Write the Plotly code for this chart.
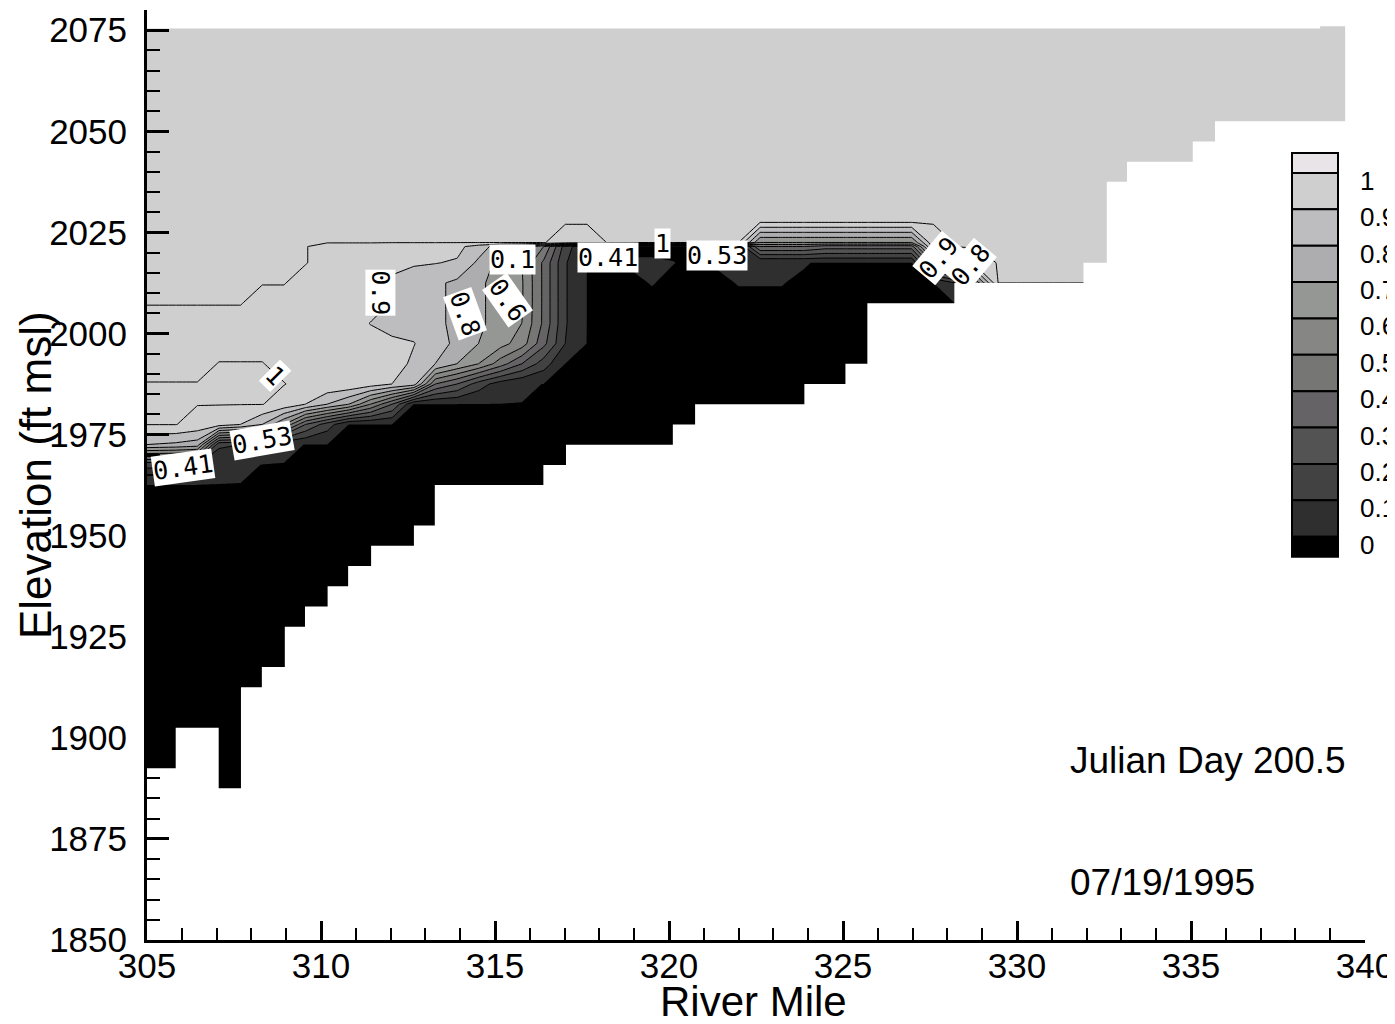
import plotly.graph_objects as go

# ---------------- data ----------------
# grid columns (river mile) where the tracer profiles were read
river_mile = [305.0, 305.825, 306.447, 307.069, 307.691, 308.313, 308.935, 309.557,
              310.179, 310.801, 311.423, 312.045, 312.667, 313.289, 313.911, 314.533,
              315.155, 315.777, 316.399, 317.021, 317.643, 318.265, 318.887, 319.509,
              320.131, 320.753, 321.375, 321.997, 322.619, 323.241, 323.863, 324.485,
              325.107, 325.729, 326.351, 326.973, 327.595, 328.217, 328.839, 329.461,
              330.083]
# grid rows (elevation, ft msl)
elev_rows = [1962.5, 1967.5, 1972.5, 1977.5, 1982.5, 1987.5, 1992.5, 1997.5,
             2002.5, 2007.5, 2012.5, 2017.5, 2021.5, 2022.5, 2027.5]
# tracer value profile at each column, bottom row -> top row
tracer_profiles = [
    [0, .12, .80, 1, 1, 1, .98, .98, .98, 1, 1, 1, 1, 1, 1],
    [0, .12, .78, 1, 1, 1, .98, .98, .98, 1, 1, 1, 1, 1, 1],
    [0, .10, .75, .97, 1, 1, .98, .98, .98, 1, 1, 1, 1, 1, 1],
    [0, .02, .12, .95, 1, 1, 1, .98, .98, 1, 1, 1, 1, 1, 1],
    [0, .01, .10, .90, 1, 1, 1, .98, .98, 1, 1, 1, 1, 1, 1],
    [0, 0, .06, .80, 1, 1, 1, .98, .98, .98, 1, 1, 1, 1, 1],
    [0, 0, .01, .60, .97, 1, .98, .98, .98, .98, 1, 1, 1, 1, 1],
    [0, 0, 0, .30, .90, .98, .98, .98, .98, .98, .98, 1, 1, 1, 1],
    [0, 0, 0, .15, .80, .98, .98, .98, .98, .98, .98, .98, .98, 1, 1],
    [0, 0, 0, 0, .70, .98, .98, .98, .98, .98, .98, .98, .98, 1, 1],
    [0, 0, 0, 0, .50, .95, .98, .98, .895, .98, .98, .98, .98, 1, 1],
    [0, 0, 0, 0, .30, .90, .95, .91, .885, .89, .895, .91, .95, 1, 1],
    [0, 0, 0, 0, 0, .85, .88, .905, .86, .86, .86, .91, .95, 1, 1],
    [0, 0, 0, 0, 0, .40, .80, .84, .82, .82, .82, .905, .95, 1, 1],
    [0, 0, 0, 0, 0, .30, .70, .78, .78, .78, .78, .89, .93, 1, 1],
    [0, 0, 0, 0, 0, .15, .60, .70, .72, .72, .72, .78, .85, 1, 1],
    [0, 0, 0, 0, 0, .05, .45, .64, .66, .66, .66, .66, .75, 1, 1],
    [0, 0, 0, 0, 0, .01, .30, .55, .60, .61, .61, .60, .70, 1, 1],
    [0, 0, 0, 0, 0, 0, .15, .33, .38, .38, .38, .38, .50, 1, 1],
    [0, 0, 0, 0, 0, 0, 0, .10, .11, .11, .11, .11, .15, .98, 1],
    [0, 0, 0, 0, 0, 0, 0, 0, 0, 0, 0, 0, 0, .98, 1],
    [0, 0, 0, 0, 0, 0, 0, 0, 0, 0, 0, 0, 0, 1, 1],
    [0, 0, 0, 0, 0, 0, 0, 0, 0, 0, 0, .0015, 0, 1, 1],
    [0, 0, 0, 0, 0, 0, 0, 0, 0, 0, .0012, .0015, 0, 1, 1],
    [0, 0, 0, 0, 0, 0, 0, 0, 0, 0, 0, .0011, 0, 1, 1],
    [0, 0, 0, 0, 0, 0, 0, 0, 0, 0, 0, 0, 0, 1, 1],
    [0, 0, 0, 0, 0, 0, 0, 0, 0, 0, 0, .0015, 0, 1, 1],
    [0, 0, 0, 0, 0, 0, 0, 0, 0, 0, .0012, .0015, 0, 1, 1],
    [0, 0, 0, 0, 0, 0, 0, 0, 0, 0, .0012, .0015, .40, .60, 1],
    [0, 0, 0, 0, 0, 0, 0, 0, 0, 0, .0012, .0015, .40, .60, 1],
    [0, 0, 0, 0, 0, 0, 0, 0, 0, 0, 0, .0015, .40, .60, 1],
    [0, 0, 0, 0, 0, 0, 0, 0, 0, 0, 0, 0, .35, .60, 1],
    [0, 0, 0, 0, 0, 0, 0, 0, 0, 0, 0, 0, .35, .60, 1],
    [0, 0, 0, 0, 0, 0, 0, 0, 0, 0, 0, 0, .35, .60, 1],
    [0, 0, 0, 0, 0, 0, 0, 0, 0, 0, 0, 0, .35, .60, 1],
    [0, 0, 0, 0, 0, 0, 0, 0, 0, 0, 0, 0, .35, .60, 1],
    [0, 0, 0, 0, 0, 0, 0, 0, 0, 0, 0, .50, .95, .98, 1],
    [0, 0, 0, 0, 0, 0, 0, 0, 0, 0, .10, .80, 1, 1, 1],
    [0, 0, 0, 0, 0, 0, 0, 0, 0, 0, .55, .98, 1, 1, 1],
    [0, 0, 0, 0, 0, 0, 0, 0, 0, 0, 1, 1, 1, 1, 1],
    [0, 0, 0, 0, 0, 0, 0, 0, 0, 0, 1, 1, 1, 1, 1],
]

# reservoir bed (segment edges, river mile) and bed elevation of each segment
bed_edges = [305.0, 305.825, 307.06, 307.70, 308.30, 308.96, 309.54, 310.19, 310.78,
             311.44, 312.67, 313.27, 316.39, 317.04, 320.11, 320.75, 323.89, 325.07,
             325.70, 328.20, 331.91, 332.58, 333.16, 335.05, 335.69, 339.43]
bed_elev = [1892.5, 1902.5, 1887.5, 1912.5, 1917.5, 1927.5, 1932.5, 1937.5, 1942.5,
            1947.5, 1952.5, 1962.5, 1967.5, 1972.5, 1977.5, 1982.5, 1987.5, 1992.5,
            2007.5, 2012.5, 2017.5, 2037.5, 2042.5, 2047.5, 2052.5]
# water surface
surface_edges = [305.0, 338.71, 339.43]
surface_elev = [2075.4, 2076.0]

# legend levels and flood colours
legend_labels = ["1", "0.9", "0.8", "0.7", "0.6", "0.5", "0.4", "0.3", "0.2", "0.1", "0"]
band_colors = ["#000000", "#2f2f2f", "#424242", "#545354", "#656365", "#767775",
               "#868785", "#959794", "#adacae", "#bdbcbf", "#cfcfcf"]
top_color = "#e8e4e8"

# contour labels as drawn on the plot: (text, river mile, elevation, angle)
contour_labels = [
    ("0.41", 306.03, 1966.9, -8), ("0.53", 308.30, 1973.6, -10),
    ("1", 308.68, 1989.7, 45), ("0.9", 311.72, 2010.0, 90),
    ("0.8", 314.14, 2005.0, 70), ("0.6", 315.37, 2008.2, 55),
    ("0.1", 315.49, 2018.4, 0), ("0.41", 318.25, 2018.9, 0),
    ("1", 319.80, 2022.3, 0), ("0.53", 321.38, 2019.4, 0),
    ("0.9", 327.73, 2018.6, -50), ("0.8", 328.65, 2016.9, -50),
]

X_RANGE = [305, 340]
Y_RANGE = [1850, 2080]

# ---------------- build grid ----------------
xs = river_mile + [X_RANGE[1]]
ys = [Y_RANGE[0]] + elev_rows + [Y_RANGE[1]]
nrow = len(elev_rows)
z = []
for r in range(nrow):
    row = [prof[r] for prof in tracer_profiles]
    row.append(row[-1])
    z.append(row)
z = [list(z[0])] + z + [list(z[-1])]

fig = go.Figure()

fig.add_trace(go.Contour(
    x=xs, y=ys, z=z, autocontour=False,
    contours=dict(start=0.001, end=0.901, size=0.1, coloring="fill", showlines=False),
    colorscale=[[k / 10, c] for k, c in enumerate(band_colors)],
    line=dict(width=0, smoothing=0), showscale=False, hoverinfo="skip"))

fig.add_trace(go.Contour(
    x=xs, y=ys, z=z, autocontour=False,
    contours=dict(start=0.101, end=0.901, size=0.1, coloring="none", showlines=True),
    line=dict(color="black", width=1, smoothing=0), showscale=False, hoverinfo="skip"))

fig.add_trace(go.Contour(
    x=xs, y=ys, z=z, autocontour=False,
    contours=dict(start=0.998, end=0.998, size=0.1, coloring="none", showlines=True),
    line=dict(color="black", width=1, smoothing=0), showscale=False, hoverinfo="skip"))

# white mask outside the model domain (below bed, above surface, beyond end)
px_ = [X_RANGE[0]]
py_ = [Y_RANGE[0]]
for i, e in enumerate(bed_elev):
    px_ += [bed_edges[i], bed_edges[i + 1]]
    py_ += [e, e]
for i in reversed(range(len(surface_elev))):
    px_ += [surface_edges[i + 1], surface_edges[i]]
    py_ += [surface_elev[i], surface_elev[i]]
px_ += [X_RANGE[0], X_RANGE[1], X_RANGE[1], X_RANGE[0]]
py_ += [Y_RANGE[1], Y_RANGE[1], Y_RANGE[0], Y_RANGE[0]]
fig.add_trace(go.Scatter(x=px_, y=py_, mode="lines", fill="toself", fillcolor="white",
                         line=dict(width=0, color="white"), hoverinfo="skip",
                         showlegend=False))

FONT = "Liberation Sans, Arial, sans-serif"
LBLFONT = "DejaVu Sans Mono, monospace"
OFF = 8                       # page body margin
W, H = 1395 - OFF, 1024 - OFF
ML, MT = 147 - OFF, 10 - OFF
MR = W - (1365 - OFF)
MB = H - (940 - OFF)
PW, PH = W - ML - MR, H - MT - MB


def pxx(p):
    return (p - OFF - ML) / PW


def pxy(p):
    return (H - MB - (p - OFF)) / PH


annotations = []
for txt, xm, ye, ang in contour_labels:
    annotations.append(dict(x=xm, y=ye, xref="x", yref="y", text=txt, showarrow=False,
                            textangle=ang, bgcolor="white", borderpad=0,
                            font=dict(family=LBLFONT, size=25, color="black")))

annotations += [
    dict(x=pxx(35), y=0.5, xref="paper", yref="paper", text="Elevation (ft msl)",
         textangle=-90, showarrow=False, xanchor="center", yanchor="middle",
         font=dict(family=FONT, size=44, color="black")),
    dict(x=pxx(753), y=pxy(1001), xref="paper", yref="paper", text="River Mile",
         showarrow=False, xanchor="center", yanchor="middle", borderpad=0,
         font=dict(family=FONT, size=42, color="black")),
    dict(x=pxx(1068), y=pxy(760), xref="paper", yref="paper", text="Julian Day 200.5",
         showarrow=False, xanchor="left", yanchor="middle",
         font=dict(family=FONT, size=37, color="black")),
    dict(x=pxx(1068), y=pxy(882), xref="paper", yref="paper", text="07/19/1995",
         showarrow=False, xanchor="left", yanchor="middle",
         font=dict(family=FONT, size=37, color="black")),
]

# legend (flood level key)
shapes = []
cell_h = 36.37
bounds = [153, 173] + [173 + cell_h * k for k in range(1, 11)] + [556.7]
cell_colors = [top_color] + band_colors[::-1]
for i, c in enumerate(cell_colors):
    shapes.append(dict(type="rect", xref="paper", yref="paper",
                       x0=pxx(1292), x1=pxx(1338), y0=pxy(bounds[i + 1]), y1=pxy(bounds[i]),
                       fillcolor=c, line=dict(color="black", width=2), layer="above"))
for i, lab in enumerate(legend_labels):
    annotations.append(dict(x=pxx(1358), y=pxy(bounds[i + 1] + 8), xref="paper", yref="paper",
                            text=lab, showarrow=False, xanchor="left", yanchor="middle",
                            font=dict(family=FONT, size=26, color="black")))

axis_common = dict(showline=True, linewidth=3, linecolor="black", showgrid=False,
                   zeroline=False, ticks="inside", tickcolor="black",
                   tickfont=dict(family=FONT, size=35, color="black"))

fig.update_layout(
    width=W, height=H, margin=dict(l=ML, r=MR, t=MT, b=MB),
    paper_bgcolor="white", plot_bgcolor="white", showlegend=False,
    xaxis=dict(range=X_RANGE, tickmode="linear", tick0=305, dtick=5, ticklen=19,
               tickwidth=3, ticklabelstandoff=-7,
               minor=dict(dtick=1, ticks="inside", ticklen=12, tickwidth=2,
                          tickcolor="black", showgrid=False), **axis_common),
    yaxis=dict(range=Y_RANGE, tickmode="linear", tick0=1850, dtick=25, ticklen=22,
               tickwidth=3, ticklabelstandoff=10,
               minor=dict(dtick=5, ticks="inside", ticklen=13, tickwidth=2,
                          tickcolor="black", showgrid=False), **axis_common),
    annotations=annotations, shapes=shapes,
)

fig.write_html("out.html")
